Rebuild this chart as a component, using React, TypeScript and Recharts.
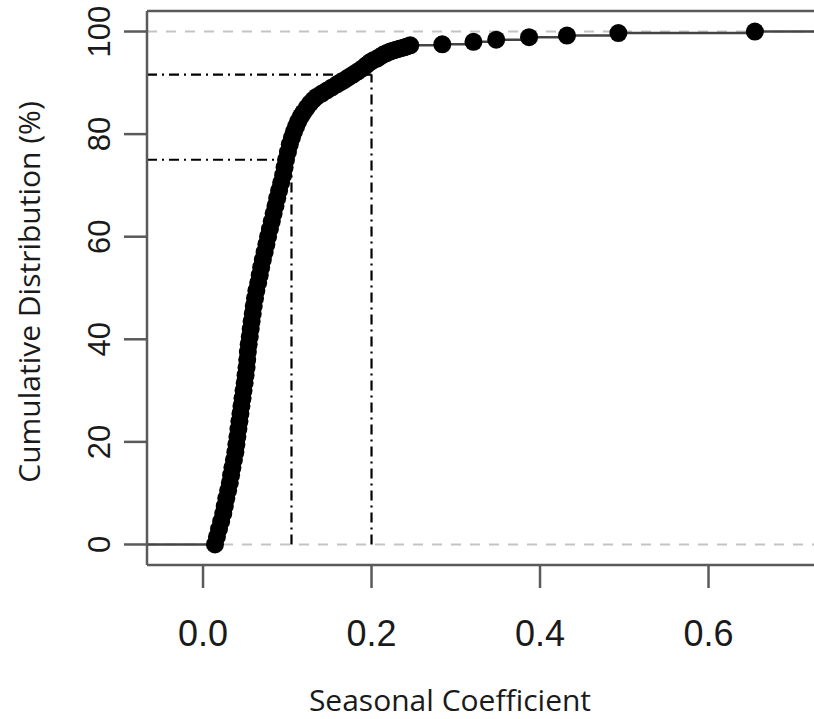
import { ComposedChart, Line, XAxis, YAxis, ReferenceLine } from "recharts";

// dense part of the ECDF (band centre)
const denseX = [
  0.0142, 0.0165, 0.019, 0.0215, 0.024, 0.0258, 0.0276, 0.0298, 0.0318, 0.0333,
  0.0349, 0.0367, 0.0384, 0.0396, 0.0408, 0.042, 0.0432, 0.0444, 0.0456, 0.0469,
  0.0481, 0.0494, 0.0505, 0.0516, 0.0524, 0.0532, 0.0542, 0.0555, 0.0566, 0.0577,
  0.059, 0.0602, 0.0617, 0.0633, 0.0655, 0.0673, 0.069, 0.071, 0.0731, 0.0752,
  0.0772, 0.0794, 0.0816, 0.0838, 0.086, 0.0881, 0.0903, 0.0927, 0.0951, 0.0968,
  0.0985, 0.1008, 0.103, 0.1055, 0.108, 0.1105, 0.113, 0.116, 0.119, 0.123,
  0.127, 0.131, 0.135, 0.141, 0.147, 0.153, 0.159, 0.164, 0.1685, 0.173,
  0.178, 0.1835, 0.189, 0.1935, 0.198, 0.202, 0.2065, 0.21, 0.214, 0.218,
  0.222, 0.226, 0.23, 0.234, 0.2386, 0.242, 0.246,
];
const denseY = [
  0, 1.5, 3, 4.5, 6, 7.5, 9, 10.5, 12, 13.5,
  15, 16.5, 18, 19.5, 21, 22.5, 24, 25.5, 27, 28.5,
  30, 31.5, 33, 34.5, 36, 37.5, 39, 40.5, 42, 43.5,
  45, 46.5, 48, 49.5, 51, 52.5, 54, 55.5, 57, 58.5,
  60, 61.5, 63, 64.5, 66, 67.5, 69, 70.5, 72, 73.5,
  75, 76.5, 78, 79.3, 80.5, 81.5, 82.5, 83.4, 84.2, 85.1,
  86.0, 86.7, 87.3, 87.9, 88.5, 89.1, 89.7, 90.2, 90.6, 91.1,
  91.6, 92.2, 92.8, 93.4, 94.0, 94.4, 94.7, 95.1, 95.5, 95.8,
  96.1, 96.3, 96.5, 96.7, 96.9, 97.1, 97.3,
];

// sparse upper tail
const tailX = [0.284, 0.321, 0.348, 0.387, 0.432, 0.493, 0.655];
const tailY = [97.5, 98.0, 98.4, 98.9, 99.2, 99.7, 100];

// dash-dot guides (quantile markers)
const guideX = [0.105, 0.2];
const guideY = [75, 91.6];

const xTicks = [0, 0.2, 0.4, 0.6];
const yTicks = [0, 20, 40, 60, 80, 100];

const X_MIN = -0.0665;
const X_MAX = 0.7252;
const Y_MIN = -4;
const Y_MAX = 104;

const allY = [...denseY, ...tailY];
const points = [...denseX, ...tailX].map((x, i) => ({ x, y: allY[i] }));

const FRAME = "#5a5a5a";
const DOTDASH = "10 5 2 5";

function XTick({ x, y, payload }: any) {
  return (
    <text
      x={x}
      y={y + 56}
      textAnchor="middle"
      fontFamily="Liberation Sans"
      fontSize={36}
      fill="#1a1a1a"
    >
      {payload.value.toFixed(1)}
    </text>
  );
}

function YTick({ x, y, payload }: any) {
  const bx = x - 12;
  return (
    <text
      x={bx}
      y={y}
      transform={`rotate(-90, ${bx}, ${y})`}
      textAnchor="middle"
      fontFamily="Liberation Sans"
      fontSize={31}
      fill="#1a1a1a"
    >
      {payload.value}
    </text>
  );
}

function Dot({ cx, cy, index }: any) {
  return <circle key={`dot-${index}`} cx={cx} cy={cy} r={9} fill="#000" />;
}

const xTitle = () => (
  <text
    x={450}
    y={711}
    textAnchor="middle"
    fontFamily="Open Sans"
    fontSize={30}
    fill="#1a1a1a"
  >
    Seasonal Coefficient
  </text>
);

const yTitle = () => (
  <text
    x={40}
    y={292}
    transform="rotate(-90, 40, 292)"
    textAnchor="middle"
    fontFamily="Open Sans"
    fontSize={30}
    fill="#1a1a1a"
  >
    Cumulative Distribution (%)
  </text>
);

export default function App() {
  return (
    <div style={{ position: "absolute", left: 0, top: 0, width: 814, height: 719, background: "#fff" }}>
      <ComposedChart
        width={814}
        height={719}
        margin={{ top: 11, right: 0, bottom: 0, left: 0 }}
      >
        <XAxis
          type="number"
          dataKey="x"
          domain={[X_MIN, X_MAX]}
          allowDataOverflow
          ticks={xTicks}
          height={154}
          tickSize={23}
          axisLine={{ stroke: FRAME, strokeWidth: 2.5 }}
          tickLine={{ stroke: FRAME, strokeWidth: 2.5 }}
          tick={<XTick />}
          label={{ value: "Seasonal Coefficient", content: xTitle }}
        />
        <YAxis
          type="number"
          dataKey="y"
          domain={[Y_MIN, Y_MAX]}
          allowDataOverflow
          ticks={yTicks}
          width={147}
          tickSize={23}
          axisLine={{ stroke: FRAME, strokeWidth: 2.5 }}
          tickLine={{ stroke: FRAME, strokeWidth: 2.5 }}
          tick={<YTick />}
          label={{ value: "Cumulative Distribution (%)", content: yTitle }}
        />

        {/* top edge of the frame */}
        <ReferenceLine y={Y_MAX} stroke={FRAME} strokeWidth={2.5} ifOverflow="visible" />

        {/* gray dashed limits */}
        <ReferenceLine y={0} stroke="#c4c4c4" strokeWidth={2} strokeDasharray="10 9" />
        <ReferenceLine y={100} stroke="#c4c4c4" strokeWidth={2} strokeDasharray="10 9" />

        {/* step-function extensions */}
        <ReferenceLine
          segment={[{ x: X_MIN, y: 0 }, { x: denseX[0], y: 0 }]}
          stroke="#444"
          strokeWidth={2.5}
          ifOverflow="visible"
        />
        <ReferenceLine
          segment={[{ x: tailX[tailX.length - 1], y: 100 }, { x: X_MAX, y: 100 }]}
          stroke="#444"
          strokeWidth={2.5}
          ifOverflow="visible"
        />

        {/* quantile guides */}
        {guideX.map((gx, i) => (
          <ReferenceLine
            key={`h-${i}`}
            segment={[{ x: X_MIN, y: guideY[i] }, { x: gx, y: guideY[i] }]}
            stroke="#000"
            strokeWidth={2.2}
            strokeDasharray={DOTDASH}
            ifOverflow="visible"
          />
        ))}
        {guideX.map((gx, i) => (
          <ReferenceLine
            key={`v-${i}`}
            segment={[{ x: gx, y: 0 }, { x: gx, y: guideY[i] }]}
            stroke="#000"
            strokeWidth={2.2}
            strokeDasharray={DOTDASH}
            ifOverflow="visible"
          />
        ))}

        <Line
          data={points}
          dataKey="y"
          type="stepAfter"
          stroke="#444"
          strokeWidth={2.5}
          dot={Dot}
          activeDot={false}
          isAnimationActive={false}
        />
      </ComposedChart>
    </div>
  );
}
